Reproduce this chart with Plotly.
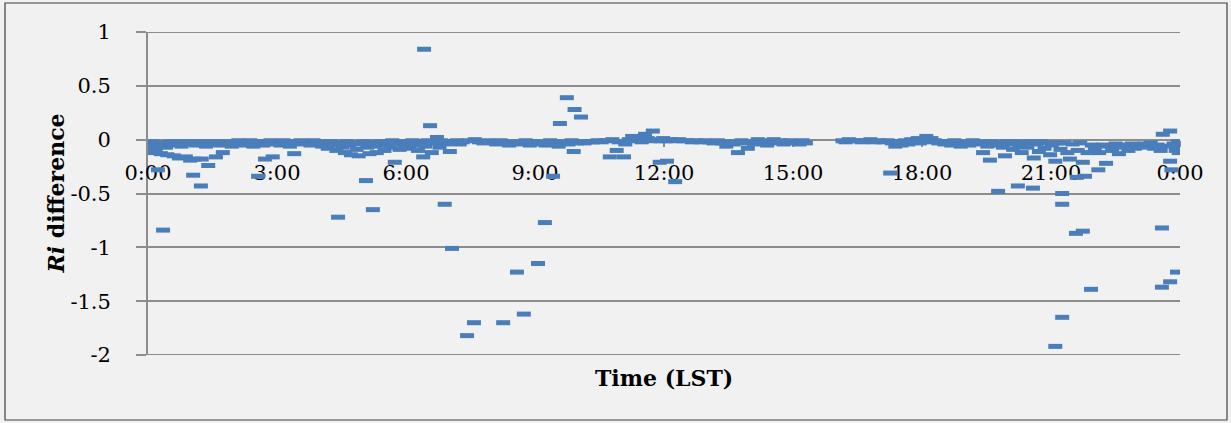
import plotly.graph_objects as go

# ---- data (hours LST, Ri difference) ----
time_hours = [
    0.00, 0.00, 0.05, 0.10, 0.12, 0.18, 0.23, 0.25, 0.30, 0.35, 0.38, 0.42, 0.45, 0.52, 0.55, 0.60, 0.68, 0.72, 0.78, 0.82, 0.88, 0.92, 0.98,
    1.02, 1.05, 1.08, 1.12, 1.18, 1.23, 1.25, 1.30, 1.35, 1.40, 1.45, 1.52, 1.58, 1.62, 1.68, 1.74, 1.80, 1.88, 1.95,
    2.02, 2.10, 2.15, 2.22, 2.30, 2.38, 2.45, 2.52, 2.56, 2.60, 2.68, 2.72, 2.78, 2.85, 2.90, 2.95,
    3.02, 3.08, 3.15, 3.22, 3.30, 3.38, 3.40, 3.48, 3.55, 3.62, 3.70, 3.78, 3.85, 3.92,
    4.00, 4.05, 4.12, 4.18, 4.25, 4.30, 4.38, 4.42, 4.45, 4.52, 4.58, 4.62, 4.68, 4.72, 4.80, 4.85, 4.90, 4.95,
    5.02, 5.07, 5.10, 5.15, 5.20, 5.23, 5.28, 5.32, 5.38, 5.45, 5.50, 5.55, 5.62, 5.68, 5.74, 5.78, 5.85, 5.90, 5.96,
    6.02, 6.08, 6.15, 6.20, 6.28, 6.35, 6.40, 6.42, 6.45, 6.50, 6.56, 6.60, 6.65, 6.72, 6.78, 6.82, 6.90, 6.92, 6.98,
    7.02, 7.07, 7.10, 7.18, 7.25, 7.32, 7.42, 7.45, 7.58, 7.60, 7.70, 7.80, 7.90,
    8.00, 8.10, 8.20, 8.26, 8.30, 8.40, 8.50, 8.58, 8.62, 8.74, 8.78, 8.88, 8.95,
    9.02, 9.07, 9.12, 9.23, 9.25, 9.35, 9.42, 9.45, 9.55, 9.58, 9.65, 9.74, 9.78, 9.85, 9.90, 9.92, 9.98, 10.07,
    10.05, 10.15, 10.25, 10.35, 10.45, 10.55, 10.65, 10.74, 10.80, 10.90, 10.95,
    11.07, 11.10, 11.18, 11.26, 11.32, 11.40, 11.48, 11.56, 11.62, 11.70, 11.74, 11.80, 11.90, 11.92, 11.98,
    12.05, 12.07, 12.15, 12.26, 12.25, 12.35, 12.45, 12.55, 12.65, 12.75, 12.85, 12.95,
    13.05, 13.15, 13.25, 13.35, 13.45, 13.55, 13.62, 13.72, 13.80, 13.88, 13.95,
    14.02, 14.10, 14.18, 14.25, 14.32, 14.40, 14.48, 14.55, 14.62, 14.70, 14.78, 14.85, 14.92, 15.00, 15.08, 15.15, 15.22, 15.30,
    16.15, 16.22, 16.30, 16.40, 16.50, 16.60, 16.70, 16.80, 16.90,
    17.00, 17.10, 17.20, 17.26, 17.30, 17.38, 17.45, 17.52, 17.60, 17.68, 17.75, 17.82, 17.90, 17.95,
    18.02, 18.10, 18.15, 18.22, 18.30, 18.38, 18.45, 18.52, 18.60, 18.68, 18.75, 18.82, 18.90, 18.96,
    19.02, 19.10, 19.18, 19.25, 19.32, 19.42, 19.45, 19.52, 19.58, 19.62, 19.70, 19.77, 19.80, 19.88, 19.93, 19.98,
    20.05, 20.12, 20.18, 20.23, 20.26, 20.32, 20.38, 20.45, 20.52, 20.58, 20.60, 20.66, 20.72, 20.78, 20.85, 20.92, 20.98,
    21.02, 21.10, 21.10, 21.15, 21.22, 21.26, 21.26, 21.26, 21.30, 21.38, 21.44, 21.50, 21.58, 21.60, 21.62, 21.68, 21.74, 21.74, 21.79, 21.85, 21.93, 21.95,
    22.02, 22.10, 22.12, 22.20, 22.28, 22.35, 22.42, 22.50, 22.58, 22.65, 22.72, 22.80, 22.88, 22.95,
    23.02, 23.10, 23.18, 23.25, 23.32, 23.40, 23.48, 23.55, 23.58, 23.58, 23.60, 23.68, 23.77, 23.77, 23.77, 23.80, 23.85, 23.90, 23.93, 23.95, 23.97, 24.00,
]

ri_difference = [
    -0.03, -0.08, -0.12, -0.02, -0.06, -0.10, -0.28, -0.04, -0.13, -0.84, -0.03, -0.07, -0.14, -0.02, -0.05, -0.15, -0.03, -0.17, -0.06, -0.02, -0.16, -0.04, -0.19,
    -0.02, -0.33, -0.18, -0.05, -0.03, -0.43, -0.18, -0.02, -0.06, -0.24, -0.03, -0.04, -0.16, -0.02, -0.05, -0.12, -0.03, -0.02, -0.06,
    -0.03, -0.01, -0.05, -0.02, -0.04, -0.01, -0.06, -0.03, -0.34, -0.02, -0.05, -0.18, -0.02, -0.01, -0.16, -0.04,
    -0.02, -0.05, -0.01, -0.03, -0.06, -0.02, -0.13, -0.03, -0.01, -0.04, -0.02, -0.05, -0.01, -0.03,
    -0.02, -0.06, -0.03, -0.08, -0.02, -0.05, -0.10, -0.72, -0.03, -0.07, -0.12, -0.02, -0.05, -0.14, -0.03, -0.09, -0.15, -0.04,
    -0.02, -0.38, -0.07, -0.13, -0.03, -0.65, -0.06, -0.12, -0.02, -0.05, -0.10, -0.03, -0.07, -0.01, -0.21, -0.04, -0.09, -0.02, -0.06,
    -0.03, -0.08, -0.01, -0.05, -0.10, -0.02, -0.16, 0.84, -0.06, -0.01, 0.13, -0.12, -0.03, 0.02, -0.07, -0.01, -0.60, -0.04, -0.02,
    -0.11, -1.01, -0.03, -0.01, -0.04, -0.02, -1.82, -0.01, -1.70, 0.00, -0.02, -0.03, -0.01,
    -0.02, -0.04, -0.01, -1.70, -0.03, -0.05, -0.02, -1.23, -0.04, -1.62, -0.01, -0.05, -0.02,
    -0.04, -1.15, -0.02, -0.77, -0.05, -0.01, -0.34, -0.03, -0.06, 0.15, -0.02, 0.39, -0.04, -0.01, -0.11, 0.28, -0.03, 0.21,
    -0.02, -0.03, -0.02, -0.02, -0.01, -0.02, -0.01, -0.16, 0.00, -0.10, -0.02,
    -0.16, -0.04, 0.00, 0.03, -0.01, 0.01, -0.02, 0.05, 0.01, -0.01, 0.08, 0.00, -0.21, -0.01, 0.01,
    -0.01, -0.20, 0.00, -0.39, -0.01, 0.00, -0.01, -0.01, -0.02, -0.01, -0.02, -0.01,
    -0.02, -0.03, -0.01, -0.03, -0.06, -0.02, -0.04, -0.12, -0.01, -0.03, -0.08,
    -0.02, -0.04, 0.00, -0.03, -0.01, -0.05, -0.02, 0.00, -0.03, -0.01, -0.04, -0.02, -0.01, -0.03, -0.02, -0.04, -0.01, -0.03,
    -0.01, -0.02, 0.00, -0.01, -0.01, -0.02, -0.01, 0.00, -0.02,
    -0.01, -0.02, -0.01, -0.31, -0.03, -0.06, -0.02, -0.05, -0.01, -0.04, 0.00, -0.02, 0.01, -0.03,
    0.00, 0.03, -0.02, 0.01, -0.01, -0.03, -0.02, -0.04, -0.02, -0.05, -0.01, -0.03, -0.06, -0.02,
    -0.03, -0.05, -0.01, -0.04, -0.02, -0.12, -0.03, -0.06, -0.19, -0.02, -0.05, -0.48, -0.03, -0.07, -0.15, -0.02,
    -0.04, -0.09, -0.02, -0.43, -0.06, -0.12, -0.03, -0.07, -0.02, -0.45, -0.17, -0.04, -0.11, -0.02, -0.08, -0.03, -0.14,
    -0.05, -0.20, -1.92, -0.03, -0.09, -0.50, -0.60, -1.65, -0.03, -0.12, -0.18, -0.04, -0.87, -0.35, -0.10, -0.03, -0.21, -0.85, -0.34, -0.12, -1.39, -0.05,
    -0.09, -0.28, -0.12, -0.05, -0.22, -0.06, -0.10, -0.04, -0.13, -0.07, -0.05, -0.10, -0.04, -0.08,
    -0.05, -0.07, -0.04, -0.06, -0.03, -0.08, -0.05, -0.10, -0.82, -1.37, 0.05, -0.06, 0.08, -0.20, -1.32, -0.28, -0.04, -0.10, -1.23, -0.02, -0.12, -0.06,
]

x_tick_values = [0, 3, 6, 9, 12, 15, 18, 21, 24]
x_tick_labels = ["0:00", "3:00", "6:00", "9:00", "12:00", "15:00", "18:00", "21:00", "0:00"]
y_tick_values = [-2, -1.5, -1, -0.5, 0, 0.5, 1]
y_tick_labels = ["-2", "-1.5", "-1", "-0.5", "0", "0.5", "1"]

FONT = "DejaVu Serif"
GRID = "#8c8c8c"
BLUE = "#4a7ebb"
BG = "#f1f1f1"

W, H = 1231, 423
L, R, T, B = 148, 51, 32, 68
pw, ph = W - L - R, H - T - B

fig = go.Figure()
fig.add_trace(go.Scatter(
    x=time_hours, y=ri_difference, mode="markers",
    marker=dict(symbol="line-ew", size=10, line=dict(width=5, color=BLUE), color=BLUE),
    showlegend=False, hoverinfo="skip",
))

fig.update_layout(
    width=W, height=H,
    margin=dict(l=L, r=R, t=T, b=B, autoexpand=False),
    paper_bgcolor=BG, plot_bgcolor=BG,
    font=dict(family=FONT, size=21, color="black"),
    xaxis=dict(
        range=[0, 24], tickvals=x_tick_values, ticktext=x_tick_labels,
        anchor="free", position=2 / 3,
        showgrid=False, zeroline=False, layer="below traces",
        showline=True, linecolor=GRID, linewidth=1.8,
        ticks="outside", ticklen=6, tickcolor=GRID, tickwidth=1.5,
        ticklabelstandoff=8,
        tickfont=dict(family=FONT, size=21, color="black"),
    ),
    yaxis=dict(
        range=[-2, 1], tickvals=y_tick_values, ticktext=y_tick_labels,
        showgrid=True, gridcolor=GRID, gridwidth=1.8, zeroline=False,
        layer="below traces",
        showline=True, linecolor=GRID, linewidth=1.8,
        ticks="outside", ticklen=10, tickcolor=GRID, tickwidth=1.5,
        ticklabelstandoff=21,
        tickfont=dict(family=FONT, size=21, color="black"),
    ),
    annotations=[
        dict(text="<b><i>Ri</i> difference</b>", textangle=-90,
             xref="paper", yref="paper", x=(55 - L) / pw, y=0.5,
             xanchor="center", yanchor="middle", showarrow=False,
             font=dict(family=FONT, size=22, color="black")),
        dict(text="<b>Time (LST)</b>",
             xref="paper", yref="paper", x=(664 - L) / pw, y=(H - B - 378) / ph,
             xanchor="center", yanchor="middle", showarrow=False,
             font=dict(family=FONT, size=22, color="black")),
    ],
    shapes=[
        dict(type="line", xref="paper", yref="y", x0=0, x1=1, y0=1, y1=1,
             line=dict(color=GRID, width=1.8), layer="below"),
        dict(type="line", xref="paper", yref="y", x0=0, x1=1, y0=-2, y1=-2,
             line=dict(color=GRID, width=1.8), layer="below"),
        dict(type="rect", xref="paper", yref="paper",
             x0=(5 - L) / pw, x1=(1227 - L) / pw,
             y0=(H - B - 420) / ph, y1=(H - B - 3) / ph,
             line=dict(color="#404040", width=1.2), layer="below"),
    ],
)

fig.write_html(
    "out.html",
    config={"displayModeBar": False},
    post_script="document.body.style.margin='0';document.body.style.padding='0';",
)
